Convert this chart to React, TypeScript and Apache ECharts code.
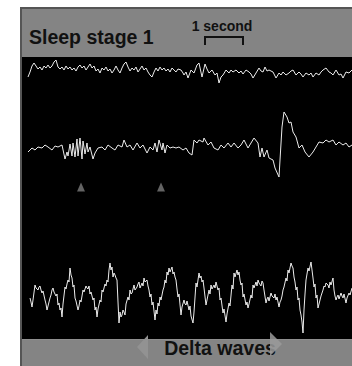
import React, { useEffect, useRef } from "react";
import * as echarts from "echarts";

// Samples: 39 samples = 1 second. Values: amplitude (negative = up, EEG convention).
const trace1: [number, number][] = [
  [0, 6], [2, 1], [4, -5], [6, -8], [8, -5], [10, -2], [12, -4], [14, -1], [16, -5], [18, -3], [20, -6], [22, -3],
  [24, -5], [26, -9], [28, -11], [30, -4], [32, -2], [34, -4], [36, -1], [38, -5], [40, -2], [42, -4], [44, -1],
  [46, -3], [48, 0], [50, -4], [52, -6], [54, -3], [56, -5], [58, -1], [60, -4], [62, -7], [64, -3], [66, -5],
  [68, 0], [70, -2], [72, 2], [74, -3], [76, -1], [78, -4], [80, 0], [82, -2], [84, 2], [86, -1], [88, -5],
  [90, -1], [92, 2], [94, -3], [96, -7], [98, -9], [100, -4], [102, 0], [104, -3], [106, -1], [108, -4], [110, 1],
  [112, -2], [114, -5], [116, -1], [118, -3], [120, 1], [122, 4], [124, 6], [126, 1], [128, -3], [130, 0],
  [132, -4], [134, -1], [136, -3], [138, 0], [140, -2], [142, 1], [144, -3], [146, -1], [148, 1], [150, -2],
  [153, -1], [155, 2], [156, 4], [158, 1], [160, 7], [163, -1], [166, 2], [169, -6], [171, -8], [174, 6], [177, -7],
  [179, -2], [181, 2], [184, -1], [187, 4], [189, 2], [191, 12], [193, 6], [195, 4], [198, -1], [201, 2], [203, -1],
  [205, 1], [208, -1], [211, 2], [213, 0], [215, 3], [218, -1], [221, 1], [223, 3], [225, 7], [228, 2], [231, -3],
  [233, 0], [235, 1], [237, -4], [239, 0], [241, -1], [245, 1], [246, 3], [248, 7], [251, 2], [253, 4], [255, 1],
  [258, 4], [261, 2], [263, 0], [265, -1], [268, 4], [271, 1], [273, 3], [275, 6], [278, 2], [281, 4], [283, 2],
  [285, 6], [288, 2], [291, 4], [293, 1], [295, -1], [298, -3], [301, 1], [303, 2], [305, 4], [308, -1], [311, 4],
  [313, 3], [315, 7], [318, 1], [321, 2], [324, -1],
];

const trace2: [number, number][] = [
  [0, 5], [4, 1], [7, 3], [10, 0], [14, 1], [17, -2], [20, 0], [24, 3], [27, -1], [30, 0], [34, -2], [37, 12],
  [39, 5], [40, 9], [42, -3], [44, 9], [45, -4], [47, 10], [49, -8], [50, 9], [52, -9], [54, 12], [55, -6],
  [57, 7], [59, -4], [60, 5], [62, 0], [65, 12], [67, 6], [70, 1], [74, 0], [77, 3], [80, -2], [84, 1], [87, 3],
  [90, -2], [94, 0], [96, -7], [99, 0], [102, -2], [105, 3], [109, -4], [112, 1], [115, -2], [119, 6], [122, 0],
  [125, 3], [127, -4], [129, 5], [131, -7], [134, 3], [135, -4], [137, 6], [139, -2], [142, 1], [145, 0],
  [148, 1], [151, 0], [155, 3], [158, 1], [161, 6], [164, 8], [166, -7], [169, -4], [171, -7], [175, -5],
  [176, -9], [180, -2], [183, -5], [186, 1], [190, 3], [193, -2], [196, 1], [200, -4], [203, 0], [206, -4],
  [210, 1], [213, -2], [216, -7], [220, 1], [223, -4], [226, -9], [230, -4], [232, 10], [234, 1], [236, 10],
  [239, 3], [241, 11], [245, 13], [247, 21], [251, 30], [252, 13], [254, -20], [256, -35], [259, -30],
  [261, -24], [263, -25], [265, -15], [268, -10], [271, 1], [274, -2], [277, 5], [281, 10], [285, 5], [288, 0],
  [291, -5], [295, -4], [298, -7], [301, -5], [305, -7], [308, -2], [311, -5], [315, -2], [318, -4], [321, 0],
  [324, -2],
];

const trace3: [number, number][] = [
  [2, 6], [3, 10], [4, 15], [5, 8], [7, -7], [8, -4], [10, -2], [11, -5], [12, -6], [13, -2], [14, 1], [15, -1],
  [17, 8], [18, 12], [19, 18], [20, 14], [22, 6], [23, 3], [24, -2], [25, -4], [26, 0], [28, 4], [29, 2], [30, 13],
  [31, 11], [32, 18], [33, 16], [34, 25], [35, 12], [37, -5], [38, -3], [39, -8], [40, -12], [41, -10], [42, -24],
  [43, -17], [44, -14], [45, -5], [46, -7], [47, 6], [48, 9], [50, 18], [51, 14], [52, 8], [53, 10], [55, -2],
  [56, 0], [58, -6], [59, -4], [60, -3], [61, -6], [62, 2], [63, 0], [65, 8], [66, 6], [67, 18], [68, 15], [69, 25],
  [70, 17], [72, 8], [73, 10], [74, -2], [75, 0], [77, -8], [78, -6], [79, -12], [80, -10], [81, -22], [82, -29],
  [83, -22], [84, -25], [85, -15], [86, -19], [87, -17], [88, -14], [89, -12], [90, 10], [91, 31], [92, 20],
  [93, 25], [94, 23], [95, 18], [96, 20], [97, 23], [98, 12], [100, 5], [101, 8], [102, -2], [103, 2], [104, 1],
  [105, -3], [106, -7], [107, -2], [109, -5], [110, -8], [111, -10], [112, -4], [114, -9], [115, -6], [116, -14],
  [117, -10], [119, -12], [120, -6], [121, -2], [122, 5], [123, 2], [124, 13], [125, 10], [127, 28], [128, 18],
  [129, 22], [130, 11], [131, 14], [132, 5], [133, 8], [135, -2], [136, -5], [137, -12], [138, -9], [139, -20],
  [140, -17], [141, -24], [142, -20], [144, -25], [145, -18], [146, -20], [147, -15], [148, -12], [149, -3],
  [150, 5], [151, 2], [153, 23], [154, 15], [156, 8], [157, 12], [158, 13], [159, 9], [161, 18], [162, 14],
  [163, 24], [165, 31], [166, 20], [168, -9], [169, -5], [171, -19], [172, -14], [173, -16], [174, -10],
  [175, -12], [176, -4], [178, 13], [179, 8], [181, -2], [182, 2], [183, -7], [184, -3], [186, -7], [187, -4],
  [188, -10], [189, -6], [190, -2], [191, -4], [192, 8], [193, 6], [195, 21], [196, 17], [198, 30], [199, 22],
  [201, 11], [202, 14], [204, -7], [205, -3], [206, -19], [207, -15], [209, -22], [210, -17], [211, -20],
  [212, -12], [213, -7], [214, -9], [215, 5], [216, 2], [218, 13], [219, 10], [220, 16], [221, 12], [223, 3],
  [224, 6], [225, -7], [226, -4], [228, -10], [229, -6], [230, -12], [231, -9], [233, -6], [234, -11], [235, -9],
  [236, -2], [238, 11], [239, 7], [240, 5], [241, 9], [243, 1], [244, 4], [246, 6], [247, 2], [248, 8], [249, 5],
  [251, 15], [252, 10], [253, 8], [254, 4], [255, -2], [256, -5], [258, -14], [259, -11], [260, -22], [261, -19],
  [263, -29], [264, -26], [265, -24], [266, -15], [267, -10], [268, -2], [269, -5], [270, 8], [271, 6], [272, 18],
  [273, 23], [274, 30], [275, 41], [276, 18], [277, 2], [278, -12], [279, -18], [280, -24], [281, -21], [283, -30],
  [284, -22], [285, -14], [286, -5], [287, -8], [288, 6], [289, 3], [290, 16], [291, 12], [292, 8], [293, 4],
  [295, -2], [296, -6], [297, -5], [298, -9], [300, -7], [301, -4], [302, -10], [303, -7], [305, -14], [306, -2],
  [307, 4], [308, 8], [309, 5], [310, 3], [311, 7], [313, 1], [314, 4], [315, 6], [316, 2], [318, 11], [319, 6],
  [321, 1], [322, 3], [324, -4],
];

const markerSamples = [53, 133];

const titleText = "Sleep stage 1";
const scaleText = "1 second";
const footerText = "Delta waves";

export default function App() {
  const ref = useRef<HTMLDivElement>(null);
  useEffect(() => {
    if (!ref.current) return;
    const chart = echarts.init(ref.current, undefined, { renderer: "svg" });
    const font = "Arial, 'Liberation Sans', sans-serif";
    const lineStyle = { color: "#ebebeb", width: 1 };
    const grids = [
      { left: 28, width: 324, top: 57, height: 44 },
      { left: 28, width: 324, top: 100, height: 100 },
      { left: 28, width: 324, top: 240, height: 99 },
    ];
    const yRanges = [
      [-14, 30],
      [-47, 53],
      [-52, 47],
    ];
    chart.setOption({
      animation: false,
      backgroundColor: "#ffffff",
      grid: grids,
      xAxis: grids.map((_, i) => ({ type: "value", gridIndex: i, min: 0, max: 324, show: false })),
      yAxis: yRanges.map(([mn, mx], i) => ({
        type: "value",
        gridIndex: i,
        min: mn,
        max: mx,
        inverse: true,
        show: false,
      })),
      series: [
        { type: "line", xAxisIndex: 0, yAxisIndex: 0, data: trace1, showSymbol: false, lineStyle, silent: true, z: 5 },
        { type: "line", xAxisIndex: 1, yAxisIndex: 1, data: trace2, showSymbol: false, lineStyle, silent: true, z: 5 },
        { type: "line", xAxisIndex: 2, yAxisIndex: 2, data: trace3, showSymbol: false, lineStyle, silent: true, z: 5 },
        {
          type: "scatter",
          xAxisIndex: 1,
          yAxisIndex: 1,
          data: markerSamples.map((s) => [s, 40]),
          symbol: "triangle",
          symbolSize: [8, 9],
          itemStyle: { color: "#7c7c7c" },
          silent: true,
          z: 5,
        },
      ],
      graphic: [
        {
          type: "rect",
          z: -10,
          shape: { x: 21, y: 8, width: 340, height: 370 },
          style: { fill: "#848484", stroke: "#555555", lineWidth: 2 },
        },
        {
          type: "rect",
          z: -9,
          shape: { x: 22, y: 57, width: 340, height: 282 },
          style: { fill: "#000000" },
        },
        {
          type: "line",
          z: -8,
          shape: { x1: 22, y1: 339.5, x2: 352, y2: 339.5 },
          style: { stroke: "#8f8f8f", lineWidth: 1 },
        },
        {
          type: "text",
          z: 10,
          x: 29,
          y: 47,
          style: { text: titleText, font: `bold 19.5px ${font}`, fill: "#111111", verticalAlign: "bottom" },
        },
        {
          type: "text",
          z: 10,
          x: 222,
          y: 33,
          style: { text: scaleText, font: `bold 14px ${font}`, fill: "#111111", align: "center", verticalAlign: "bottom" },
        },
        {
          type: "polyline",
          z: 10,
          shape: { points: [[205, 45], [205, 37], [243, 37], [243, 45]] },
          style: { stroke: "#111111", lineWidth: 2, fill: null },
        },
        {
          type: "polygon",
          z: 10,
          shape: { points: [[137, 347], [148, 335], [148, 359]] },
          style: { fill: "#929292" },
        },
        {
          type: "text",
          z: 10,
          x: 220,
          y: 358,
          style: { text: footerText, font: `bold 19.5px ${font}`, fill: "#111111", align: "center", verticalAlign: "bottom" },
        },
        {
          type: "polygon",
          z: 11,
          shape: { points: [[270, 332], [282, 344], [270, 356]] },
          style: { fill: "#9a9a9a", opacity: 0.85 },
        },
      ],
    });
    return () => chart.dispose();
  }, []);
  return (
    <div
      ref={ref}
      style={{ position: "absolute", left: 0, top: 0, width: 352, height: 366 }}
    />
  );
}
